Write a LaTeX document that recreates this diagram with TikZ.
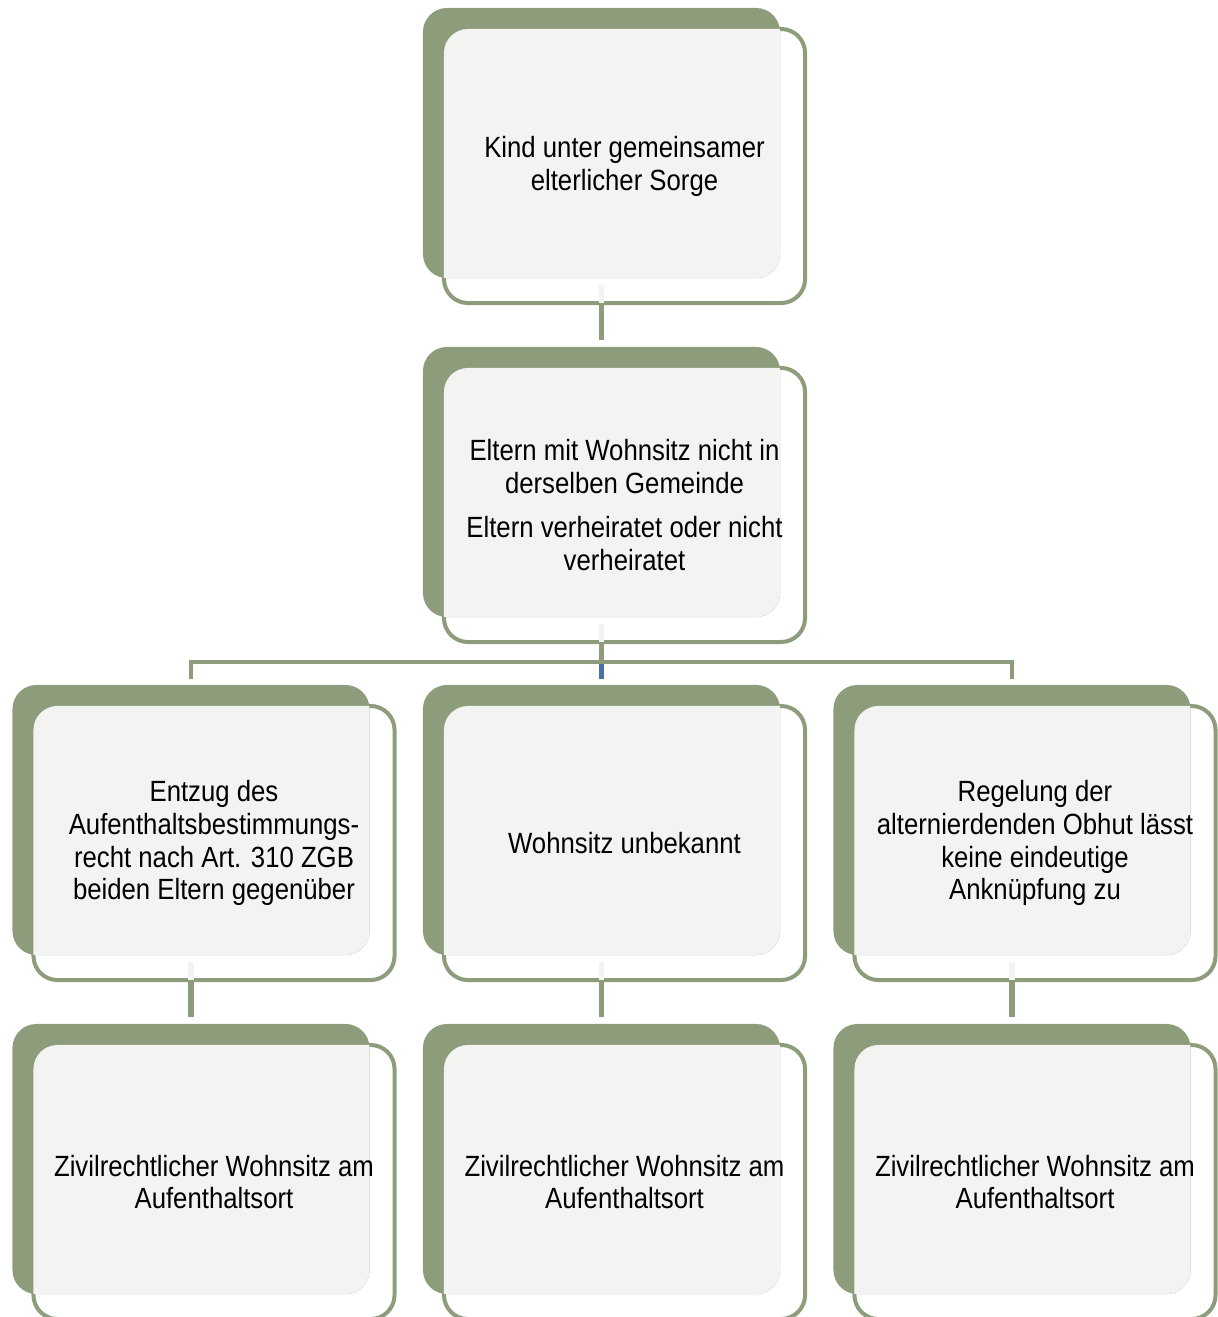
\documentclass[tikz,border=0pt]{standalone}
\usepackage{fontspec}
\setmainfont{Liberation Sans}[FakeStretch=0.88]
\usetikzlibrary{calc,positioning}
\definecolor{sage}{HTML}{8D9C7B}
\definecolor{cardgray}{HTML}{F3F3F1}
\definecolor{stubblue}{HTML}{4A72AA}
\newcommand{\wohnbox}[4]{%
  \node[cardline] (#1) at (#2,#3) {};
  \node[cardback] (#1-b) at ($(#1)+(-23,-23)$) {};
  \begin{scope}
    \clip[rounded corners=0.6cm] (#1-b.south west) rectangle (#1-b.north east);
    \fill[cardgray,rounded corners=0.6cm] (#1.south west) rectangle (#1.north east);
  \end{scope}
  \node[cardtext] at (#1) {#4};
}

\begin{document}
\begin{tikzpicture}[x=0.025cm,y=-0.025cm,
    cardline/.style={draw=sage,line width=0.1cm,fill=white,rounded corners=0.6cm,
      minimum width=9.025cm,minimum height=6.85cm,inner sep=0pt,outer sep=0pt},
    cardback/.style={fill=sage,rounded corners=0.6cm,
      minimum width=8.925cm,minimum height=6.75cm,inner sep=0pt,outer sep=0pt},
    cardtext/.style={align=center,font=\fontsize{20.8pt}{23.4pt}\selectfont},
    link/.style={draw=sage,line width=0.13cm},
    faint/.style={draw=cardgray,line width=0.13cm},
    stub/.style={draw=stubblue,line width=0.13cm}]
  \useasboundingbox (0,0) rectangle (1218,1317);
  % boxes
  \wohnbox{kind}{624.5}{166}{Kind unter gemeinsamer\\elterlicher Sorge}
  \wohnbox{eltern}{624.5}{505}{Eltern mit Wohnsitz nicht in\\derselben Gemeinde\\[8.5pt]Eltern verheiratet oder nicht\\verheiratet}
  \wohnbox{entzug}{214}{843}{Entzug des\\Aufenthaltsbestimmungs-\\recht nach Art. 310 ZGB\\beiden Eltern gegenüber}
  \wohnbox{unbek}{624.5}{843}{Wohnsitz unbekannt}
  \wohnbox{regel}{1035}{843}{Regelung der\\alternierdenden Obhut lässt\\keine eindeutige\\Anknüpfung zu}
  \wohnbox{zivilA}{214}{1182}{Zivilrechtlicher Wohnsitz am\\Aufenthaltsort}
  \wohnbox{zivilB}{624.5}{1182}{Zivilrechtlicher Wohnsitz am\\Aufenthaltsort}
  \wohnbox{zivilC}{1035}{1182}{Zivilrechtlicher Wohnsitz am\\Aufenthaltsort}
  % connectors
  \draw[faint] ($(kind-b |- kind.south)+(0,-18)$) -- (kind-b |- kind.south);
  \draw[link] (kind-b |- kind.south) -- ($(eltern-b.north)+(0,-7)$);
  \coordinate (fork) at ($(eltern-b |- eltern.south)+(0,20)$);
  \draw[faint] ($(eltern-b |- eltern.south)+(0,-18)$) -- (eltern-b |- eltern.south);
  \draw[link] (eltern-b |- eltern.south) -- (fork);
  \draw[stub] (fork) -- ($(unbek-b.north)+(0,-6)$);
  \draw[link,line width=0.115cm] ($(entzug-b.north)+(0,-6)$) |- (fork) -| ($(regel-b.north)+(0,-6)$);
  \foreach \top/\bot in {entzug/zivilA,unbek/zivilB,regel/zivilC}{
    \draw[faint] ($(\top-b |- \top.south)+(0,-18)$) -- (\top-b |- \top.south);
    \draw[link] (\top-b |- \top.south) -- ($(\bot-b.north)+(0,-7)$);
  }
\end{tikzpicture}
\end{document}
